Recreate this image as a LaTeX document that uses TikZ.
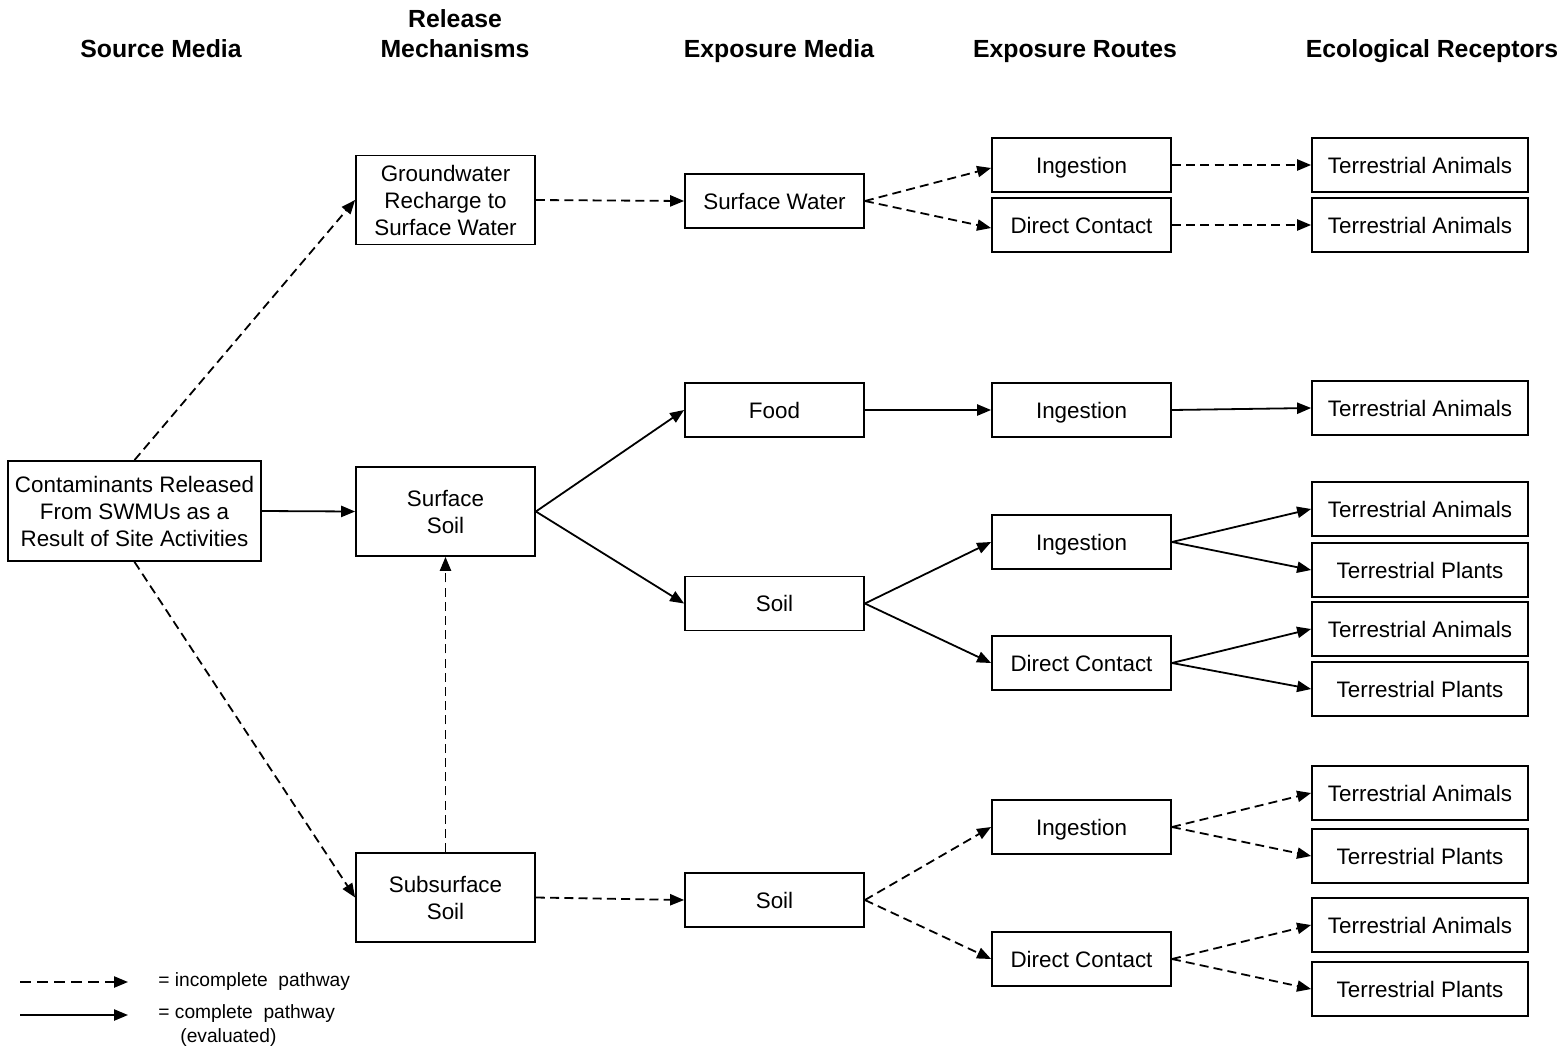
\documentclass[tikz,border=0pt]{standalone}
\usepackage{fontspec}
\setmainfont{Liberation Sans}
\usetikzlibrary{arrows.meta}
\newcommand{\bodyfs}{\fontsize{11.2}{13.5}\selectfont}
\newcommand{\hdrfs}{\fontsize{12.4}{15}\selectfont\bfseries}
\newcommand{\legfs}{\fontsize{9.6}{12}\selectfont}
\newcommand{\nodepth}[1]{\raisebox{0pt}[\height][0pt]{#1}}
\tikzset{
  bx/.style={draw, line width=0.9pt, minimum width=#1, minimum height=27pt, inner sep=0pt, align=center, font=\bodyfs},
  tall/.style={minimum height=44.5pt},
  hdr/.style={align=center, font=\hdrfs, inner sep=0pt, anchor=base},
  conn/.style={line width=0.9pt, -{Triangle[length=7pt,width=5.6pt]}},
  dsh/.style={conn, dash pattern=on 4.5pt off 2.6pt},
  sol/.style={conn},
}
\begin{document}
\begin{tikzpicture}[x=0.5pt,y=-0.5pt]
\useasboundingbox (0,0) rectangle (1568,1050);
% headers
\node[hdr] (h1) at (161,57) {Source Media};
\node[hdr] (h2) at (455,57) {Release\\Mechanisms};
\node[hdr] (h3) at (779,57) {Exposure Media};
\node[hdr] (h4) at (1075,57) {Exposure Routes};
\node[hdr] (h5) at (1432,57) {Ecological Receptors};
% source
\node[bx=126.5pt, minimum height=50pt] (cont) at (134.5,511) {Contaminants Released\\From SWMUs as a\\Result of Site Activities};
% release
\node[bx=89.5pt, tall] (gw) at (445.5,200) {Groundwater\\Recharge to\\Surface Water};
\node[bx=89.5pt, tall] (ss) at (445.5,511.5) {Surface\\Soil};
\node[bx=89.5pt, tall] (sub) at (445.5,897.5) {Subsurface\\Soil};
% exposure media
\node[bx=89.5pt] (sw) at (774.5,201) {Surface Water};
\node[bx=89.5pt] (food) at (774.5,410) {Food};
\node[bx=89.5pt] (soil1) at (774.5,603.5) {Soil};
\node[bx=89.5pt] (soil2) at (774.5,900) {Soil};
% routes
\node[bx=89.5pt] (ing1) at (1081.5,165) {\nodepth{Ingestion}};
\node[bx=89.5pt] (dc1) at (1081.5,225) {Direct Contact};
\node[bx=89.5pt] (ing2) at (1081.5,410) {\nodepth{Ingestion}};
\node[bx=89.5pt] (ing3) at (1081.5,542) {\nodepth{Ingestion}};
\node[bx=89.5pt] (dc2) at (1081.5,663) {Direct Contact};
\node[bx=89.5pt] (ing4) at (1081.5,827) {\nodepth{Ingestion}};
\node[bx=89.5pt] (dc3) at (1081.5,959) {Direct Contact};
% receptors
\node[bx=108pt] (r1) at (1420,165) {Terrestrial Animals};
\node[bx=108pt] (r2) at (1420,225) {Terrestrial Animals};
\node[bx=108pt] (r3) at (1420,408) {Terrestrial Animals};
\node[bx=108pt] (r4) at (1420,509) {Terrestrial Animals};
\node[bx=108pt] (r5) at (1420,570) {Terrestrial Plants};
\node[bx=108pt] (r6) at (1420,629) {Terrestrial Animals};
\node[bx=108pt] (r7) at (1420,689) {Terrestrial Plants};
\node[bx=108pt] (r8) at (1420,793) {Terrestrial Animals};
\node[bx=108pt] (r9) at (1420,856) {Terrestrial Plants};
\node[bx=108pt] (r10) at (1420,925) {Terrestrial Animals};
\node[bx=108pt] (r11) at (1420,989) {Terrestrial Plants};
% connectors
\draw[dsh] (cont.north) -- (gw.west);
\draw[sol] (cont.east) -- (ss.west);
\draw[dsh] (cont.south) -- (sub.west);
\draw[dsh] (sub.north) -- (ss.south);
\draw[dsh] (gw.east) -- (sw.west);
\draw[sol] (ss.east) -- (food.west);
\draw[sol] (ss.east) -- (soil1.west);
\draw[dsh] (sub.east) -- (soil2.west);
\draw[dsh] (sw.east) -- ([yshift=-1.5pt]ing1.west);
\draw[dsh] (sw.east) -- ([yshift=-1.5pt]dc1.west);
\draw[dsh] (ing1.east) -- (r1.west);
\draw[dsh] (dc1.east) -- (r2.west);
\draw[sol] (food.east) -- (ing2.west);
\draw[sol] (ing2.east) -- (r3.west);
\draw[sol] (soil1.east) -- (ing3.west);
\draw[sol] (soil1.east) -- (dc2.west);
\draw[sol] (ing3.east) -- (r4.west);
\draw[sol] (ing3.east) -- (r5.west);
\draw[sol] (dc2.east) -- (r6.west);
\draw[sol] (dc2.east) -- (r7.west);
\draw[dsh] (soil2.east) -- (ing4.west);
\draw[dsh] (soil2.east) -- (dc3.west);
\draw[dsh] (ing4.east) -- (r8.west);
\draw[dsh] (ing4.east) -- (r9.west);
\draw[dsh] (dc3.east) -- (r10.west);
\draw[dsh] (dc3.east) -- (r11.west);
% legend
\coordinate (l1a) at (20,982);
\coordinate (l1b) at (128,982);
\coordinate (l2a) at (20,1015);
\coordinate (l2b) at (128,1015);
\draw[dsh, dash pattern=on 5.5pt off 3pt] (l1a) -- (l1b);
\draw[sol] (l2a) -- (l2b);
\node[font=\legfs, anchor=west, inner sep=0pt] (t1) at (158,982) {= incomplete\ \ pathway};
\node[font=\legfs, anchor=west, inner sep=0pt] (t2) at (158,1014) {= complete\ \ pathway};
\node[font=\legfs, anchor=west, inner sep=0pt] (t3) at (180,1038) {(evaluated)};
\end{tikzpicture}
\end{document}
